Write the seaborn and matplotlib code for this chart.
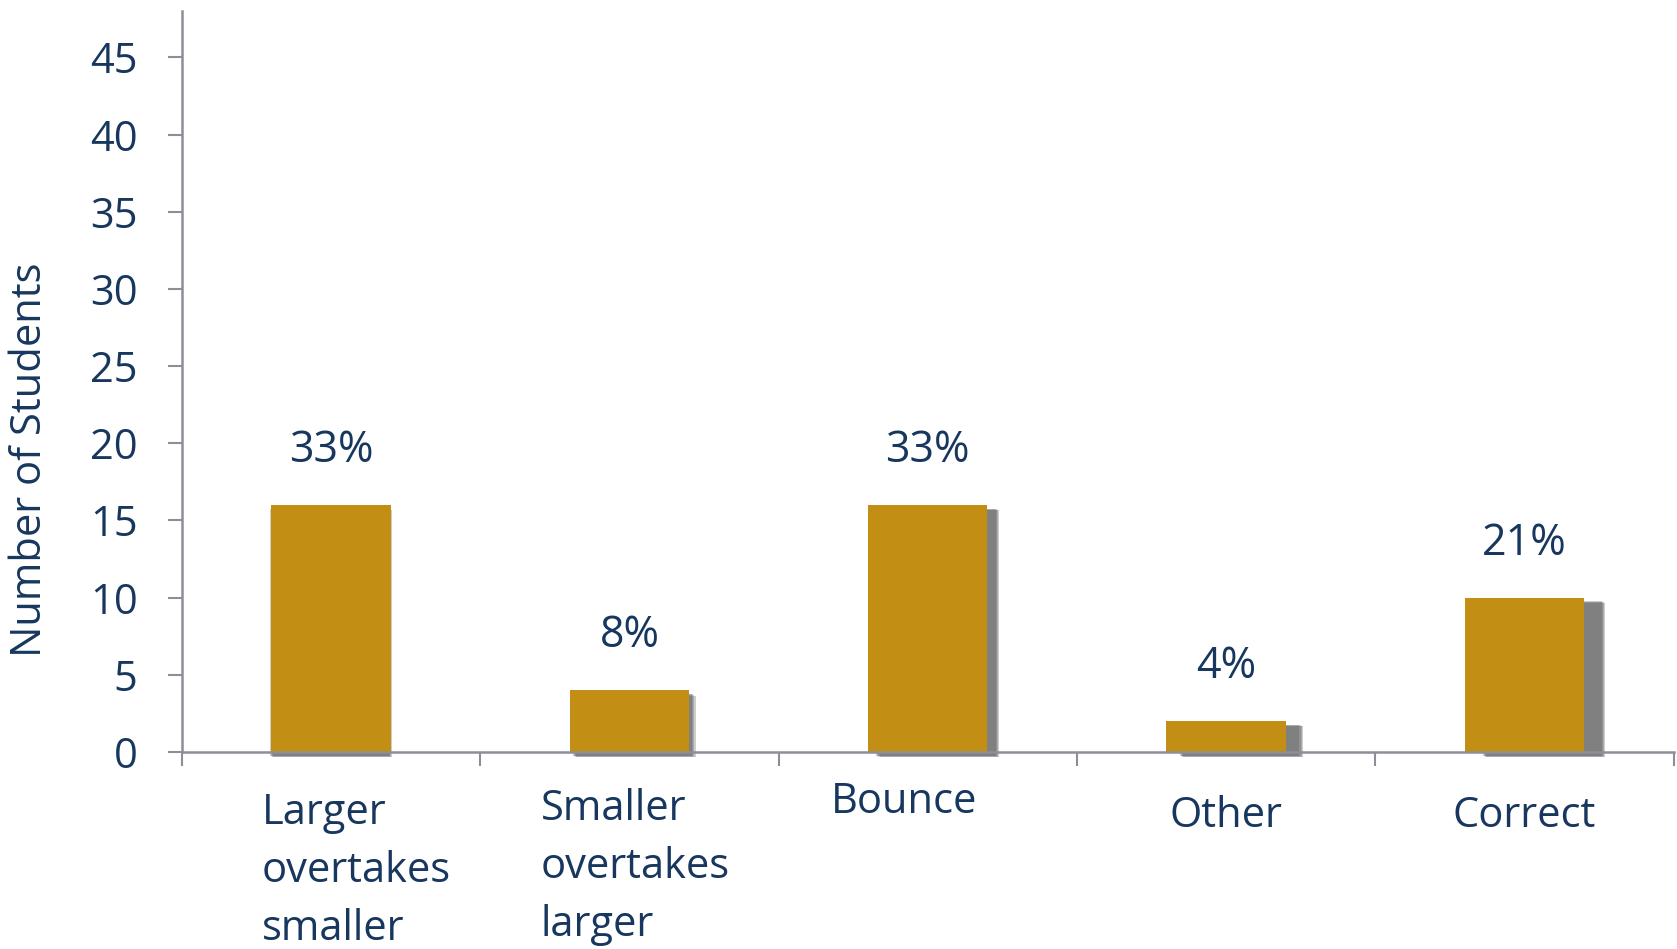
import matplotlib
matplotlib.use("Agg")
import matplotlib.pyplot as plt
import matplotlib.patheffects as pe
import numpy as np
import pandas as pd
import seaborn as sns

categories = ["Larger\novertakes\nsmaller", "Smaller\novertakes\nlarger", "Bounce", "Other", "Correct"]
counts = [16, 4, 16, 2, 10]
percent_labels = ["33%", "8%", "33%", "4%", "21%"]
y_ticks = [0, 5, 10, 15, 20, 25, 30, 35, 40, 45]
y_label = "Number of Students"

BAR = "#C28E13"
NAVY = "#17375E"
GRAY = "#8C8E98"
SHADOW = "#5A5A5A"

sns.set_theme(style="white")
plt.rcParams["font.family"] = ["Open Sans", "DejaVu Sans"]

fig = plt.figure(figsize=(16.77, 9.49), dpi=100)
ax = fig.add_axes([0.1085, 0.2076, 0.8895, 0.7808])

df = pd.DataFrame({"category": categories, "count": counts})
sns.barplot(data=df, x="category", y="count", color=BAR, saturation=1,
            width=0.4, linewidth=0, ax=ax, zorder=3)

# perspective-like soft drop shadows (offsets in points)
shadow_dx = [0.0, 3.4, 7.0, 11.0, 14.0]
shadow_dy = -3.2
spread = [-1.2, -0.4, 0.4, 1.2]
for patch, dx in zip(ax.patches, shadow_dx):
    effects = [pe.SimplePatchShadow(offset=(dx + s, shadow_dy - s * 0.5),
                                    shadow_rgbFace=SHADOW, alpha=0.3)
               for s in spread]
    effects.append(pe.Normal())
    patch.set_path_effects(effects)
    patch.set_clip_on(False)

ax.set_xlim(-0.5, len(categories) - 0.5)
ax.set_ylim(0, 48)
ax.set_xticks(np.arange(len(categories) + 1) - 0.5)
ax.set_xticklabels([""] * (len(categories) + 1))
ax.set_yticks(y_ticks)
ax.set_yticklabels([str(v) for v in y_ticks])
ax.tick_params(axis="x", length=10, width=1.5, color=GRAY, direction="out", bottom=True)
ax.tick_params(axis="y", length=10, width=1.5, color=GRAY, direction="out", left=True,
               labelsize=30, labelcolor=NAVY, pad=22)
ax.set_xlabel("")
ax.set_ylabel(y_label, fontsize=30, color=NAVY)
ax.yaxis.set_label_coords(-0.088, 0.394)

for side in ["top", "right"]:
    ax.spines[side].set_visible(False)
for side in ["left", "bottom"]:
    ax.spines[side].set_color(GRAY)
    ax.spines[side].set_linewidth(1.8)
    ax.spines[side].set_zorder(4)

# category labels
label_dx = [18, 4, -17, 0, 0]
label_dy = [29, 26, 21, 31, 31]
for i, (lab, dx, dy) in enumerate(zip(categories, label_dx, label_dy)):
    ax.annotate(lab, xy=(i, 0), xycoords=("data", "axes fraction"),
                xytext=(dx, -dy), textcoords="offset points",
                ha="center", va="top", multialignment="left",
                fontsize=30, color=NAVY, linespacing=1.5)

ax.bar_label(ax.containers[0], labels=percent_labels, padding=23,
             fontsize=31, color=NAVY)

fig.savefig("out.png", dpi=100, facecolor="white")
